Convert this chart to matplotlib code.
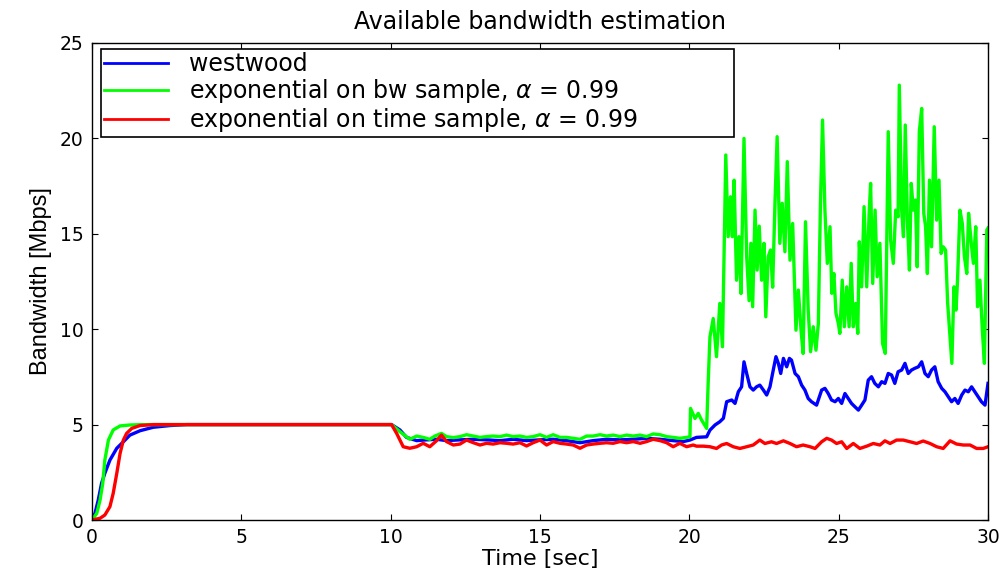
import matplotlib
matplotlib.use("Agg")
import matplotlib.pyplot as plt
from matplotlib import font_manager

# ---------------- data ----------------
westwood_t = [0, 0.10, 0.21, 0.32, 0.43, 0.60, 0.83, 1.05, 1.27, 1.61, 2.05, 2.61, 3.17, 10.03,
              10.31, 10.53, 10.87, 11.20, 11.54, 11.87, 12.32, 12.77, 13.21, 13.66, 14.10, 14.55,
              15.00, 15.44, 15.89, 16.34, 16.78, 17.23, 17.68, 18.12, 18.57, 19.02, 19.46, 19.80,
              20.02, 20.24, 20.58, 20.69, 20.86, 21.02, 21.14, 21.25, 21.42, 21.53, 21.64, 21.75,
              21.83, 21.92, 22.03, 22.14, 22.25, 22.36, 22.48, 22.59, 22.70, 22.81, 22.90, 22.98,
              23.06, 23.15, 23.26, 23.35, 23.42, 23.54, 23.65, 23.76, 23.87, 23.98, 24.09, 24.26,
              24.43, 24.54, 24.65, 24.76, 24.88, 24.99, 25.10, 25.21, 25.32, 25.43, 25.54, 25.66,
              25.77, 25.88, 25.99, 26.10, 26.21, 26.33, 26.44, 26.55, 26.66, 26.77, 26.88, 26.99,
              27.11, 27.22, 27.33, 27.44, 27.55, 27.67, 27.78, 27.89, 28.00, 28.11, 28.22, 28.33,
              28.45, 28.56, 28.67, 28.78, 28.89, 29.00, 29.12, 29.23, 29.34, 29.45, 29.56, 29.67,
              29.78, 29.90, 30.00]
westwood_bw = [0, 0.35, 1.05, 1.92, 2.45, 3.14, 3.76, 4.10, 4.45, 4.68, 4.86, 4.95, 5.00, 5.00,
               4.72, 4.33, 4.16, 4.20, 4.23, 4.16, 4.20, 4.23, 4.20, 4.16, 4.23, 4.16,
               4.20, 4.23, 4.16, 4.05, 4.16, 4.23, 4.20, 4.23, 4.28, 4.23, 4.16, 4.11,
               4.19, 4.33, 4.36, 4.71, 4.98, 5.15, 5.33, 6.20, 6.29, 6.11, 6.72, 6.98,
               8.29, 7.68, 6.98, 6.81, 6.98, 7.07, 6.81, 6.55, 6.98, 7.86, 8.56, 8.21,
               7.68, 8.47, 8.03, 8.47, 8.38, 7.68, 7.51, 7.07, 6.81, 6.37, 6.20, 6.02,
               6.81, 6.90, 6.63, 6.29, 6.20, 6.37, 6.11, 6.63, 6.37, 6.11, 5.94, 5.76,
               6.02, 6.29, 7.33, 7.51, 7.16, 6.98, 7.25, 7.16, 7.68, 7.60, 7.16, 7.77,
               7.86, 8.21, 7.68, 7.86, 7.95, 8.03, 8.29, 7.68, 7.51, 7.86, 8.03, 7.25,
               6.90, 6.72, 6.46, 6.20, 6.37, 6.11, 6.55, 6.81, 6.72, 6.98, 6.72, 6.46,
               6.20, 6.02, 7.16]

bwsample_t = [0, 0.16, 0.27, 0.36, 0.43, 0.55, 0.71, 0.94, 1.27, 1.72, 10.03,
              10.31, 10.64, 10.87, 11.09, 11.31, 11.48, 11.70, 11.87, 12.10, 12.32, 12.54, 12.77,
              12.99, 13.21, 13.43, 13.66, 13.88, 14.10, 14.33, 14.55, 14.77, 15.00, 15.22, 15.44,
              15.67, 15.89, 16.11, 16.34, 16.56, 16.78, 17.01, 17.23, 17.45, 17.68, 17.90, 18.12,
              18.35, 18.57, 18.79, 19.02, 19.24, 19.46, 19.68, 19.91, 20.02,
              20.04, 20.19, 20.30, 20.41, 20.58, 20.63, 20.69, 20.80, 20.91, 21.02, 21.11, 21.22,
              21.30, 21.38, 21.44, 21.50, 21.58, 21.66, 21.73, 21.83, 21.92, 22.00, 22.06, 22.12,
              22.20, 22.27, 22.34, 22.42, 22.50, 22.56, 22.64, 22.72, 22.79, 22.87, 22.94, 23.03,
              23.11, 23.20, 23.28, 23.37, 23.46, 23.57, 23.65, 23.74, 23.81, 23.89, 23.98, 24.06,
              24.15, 24.24, 24.32, 24.39, 24.46, 24.54, 24.62, 24.71, 24.77, 24.84, 24.91, 24.99,
              25.04, 25.12, 25.19, 25.27, 25.35, 25.42, 25.49, 25.57, 25.64, 25.69, 25.77, 25.85,
              25.94, 26.02, 26.07, 26.14, 26.22, 26.29, 26.38, 26.47, 26.56, 26.66, 26.74, 26.83,
              26.91, 26.99, 27.03, 27.11, 27.17, 27.23, 27.30, 27.37, 27.43, 27.50, 27.57, 27.63,
              27.70, 27.78, 27.85, 27.91, 27.97, 28.04, 28.11, 28.20, 28.28, 28.36, 28.43, 28.50,
              28.58, 28.65, 28.73, 28.79, 28.86, 28.93, 28.98, 29.06, 29.14, 29.21, 29.29, 29.35,
              29.43, 29.51, 29.59, 29.65, 29.73, 29.81, 29.88, 29.96, 30.00]
bwsample_bw = [0, 0.35, 1.05, 1.92, 3.14, 4.19, 4.72, 4.93, 4.98, 5.00, 5.00,
               4.63, 4.23, 4.40, 4.33, 4.23, 4.40, 4.54, 4.37, 4.32, 4.37, 4.47, 4.40,
               4.33, 4.37, 4.40, 4.37, 4.45, 4.37, 4.40, 4.33, 4.37, 4.47, 4.33, 4.47,
               4.33, 4.33, 4.28, 4.23, 4.40, 4.40, 4.47, 4.40, 4.45, 4.37, 4.45, 4.40,
               4.45, 4.37, 4.51, 4.47, 4.37, 4.33, 4.28, 4.33, 4.36,
               5.85, 5.32, 5.59, 5.24, 4.80, 7.16, 9.60, 10.56, 8.56, 11.35, 9.08, 19.13,
               14.85, 16.94, 14.85, 17.81, 12.57, 14.85, 11.87, 20.00, 13.80, 11.50, 14.50, 11.18,
               16.24, 13.10, 15.40, 12.57, 14.50, 10.65, 13.80, 14.15, 12.20, 16.77, 20.09, 14.50,
               16.60, 14.06, 18.78, 13.62, 15.54, 9.95, 12.05, 9.95, 8.73, 15.63, 11.00, 8.82,
               10.13, 8.90, 10.30, 16.60, 20.96, 16.24, 13.45, 15.37, 11.88, 12.92, 10.83, 10.30,
               9.78, 12.57, 10.13, 12.22, 10.13, 13.45, 10.13, 11.35, 9.78, 14.58, 12.22, 16.42,
               12.22, 16.07, 17.64, 12.40, 16.24, 12.75, 14.50, 9.25, 8.73, 20.35, 14.67, 13.45,
               16.24, 15.89, 22.79, 16.24, 14.85, 20.70, 15.72, 13.10, 17.64, 16.24, 16.77, 13.27,
               20.35, 21.57, 16.07, 15.37, 12.92, 17.81, 14.32, 20.61, 15.72, 17.81, 13.97, 14.32,
               14.15, 11.35, 9.60, 8.21, 12.22, 11.00, 12.57, 16.24, 15.54, 13.80, 12.92, 16.07,
               14.67, 13.45, 15.37, 11.18, 12.57, 9.95, 8.21, 15.20, 15.30]

timesample_t = [0, 0.27, 0.43, 0.60, 0.71, 0.83, 0.94, 1.05, 1.16, 1.33, 1.61, 2.05, 10.03,
                10.20, 10.42, 10.64, 10.87, 11.09, 11.31, 11.54, 11.70, 11.87, 12.10, 12.32, 12.54,
                12.77, 12.99, 13.21, 13.43, 13.66, 13.88, 14.10, 14.33, 14.55, 14.77, 15.00, 15.22,
                15.44, 15.67, 15.89, 16.11, 16.34, 16.56, 16.78, 17.01, 17.23, 17.45, 17.68, 17.90,
                18.12, 18.35, 18.57, 18.79, 19.02, 19.24, 19.46, 19.68, 19.91, 20.13,
                20.24, 20.47, 20.69, 20.91, 21.08, 21.25, 21.47, 21.69, 21.92, 22.14, 22.36, 22.53,
                22.75, 22.92, 23.15, 23.37, 23.59, 23.81, 24.04, 24.21, 24.43, 24.60, 24.76, 24.93,
                25.10, 25.27, 25.49, 25.71, 25.94, 26.16, 26.38, 26.55, 26.72, 26.94, 27.16, 27.39,
                27.61, 27.83, 28.06, 28.28, 28.50, 28.73, 28.95, 29.17, 29.40, 29.62, 29.84, 30.00]
timesample_bw = [0, 0.09, 0.26, 0.70, 1.40, 2.45, 3.49, 4.19, 4.54, 4.80, 4.95, 5.00, 5.00,
                 4.54, 3.84, 3.76, 3.84, 4.02, 3.84, 4.16, 4.45, 4.11, 3.93, 3.98, 4.19,
                 4.05, 3.93, 4.02, 3.98, 4.05, 4.02, 3.98, 4.05, 3.88, 4.05, 4.19, 3.93,
                 4.11, 4.02, 3.98, 3.93, 3.76, 3.93, 3.98, 4.02, 4.05, 4.02, 4.11, 4.05,
                 4.11, 4.02, 4.11, 4.23, 4.16, 4.05, 3.84, 4.02, 3.84, 3.93,
                 3.87, 3.87, 3.84, 3.75, 3.93, 4.01, 3.84, 3.75, 3.84, 3.93, 4.19, 4.01,
                 4.10, 4.01, 4.15, 4.01, 3.84, 3.93, 3.84, 3.75, 4.10, 4.28, 4.19, 4.01,
                 4.10, 3.75, 4.01, 3.75, 3.87, 4.01, 3.93, 4.15, 4.01, 4.19, 4.19, 4.10,
                 4.01, 4.14, 4.01, 3.84, 3.75, 4.15, 3.98, 3.93, 3.93, 3.75, 3.75, 3.84]

series_labels = ["westwood",
                 r"exponential on bw sample, $\alpha$ = 0.99",
                 r"exponential on time sample, $\alpha$ = 0.99"]
x_ticks = [0, 5, 10, 15, 20, 25, 30]
y_ticks = [0, 5, 10, 15, 20, 25]

# ---------------- drawing ----------------
plt.rcParams['font.family'] = ['DejaVu Sans']
plt.rcParams['mathtext.fontset'] = 'dejavusans'

available = {f.name for f in font_manager.fontManager.ttflist}
ylab_font = 'Liberation Sans Narrow' if 'Liberation Sans Narrow' in available else 'Liberation Sans'

fig = plt.figure(figsize=(10.03, 5.71), dpi=100)
ax = fig.add_axes([92 / 1003, 1 - 520 / 571, 896 / 1003, 477 / 571])

lw = 2.4
ax.plot(westwood_t, westwood_bw, color=(0, 0, 1), lw=lw, label=series_labels[0])
ax.plot(bwsample_t, bwsample_bw, color=(0, 1, 0), lw=lw, label=series_labels[1])
ax.plot(timesample_t, timesample_bw, color=(1, 0, 0), lw=lw, label=series_labels[2])

ax.set_xlim(0, 30)
ax.set_ylim(0, 25)
ax.set_xticks(x_ticks)
ax.set_yticks(y_ticks)
ax.tick_params(direction='in', length=4.5, width=0.8, top=True, right=True,
               labelsize=13.5, pad=6)
for s in ax.spines.values():
    s.set_linewidth(1.0)
    s.set_color('black')

ax.set_title("Available bandwidth estimation", fontsize=17, pad=10)
ax.set_xlabel("Time [sec]", fontsize=16, labelpad=1)
ax.set_ylabel("Bandwidth [Mbps]", fontsize=17, family=ylab_font, labelpad=6)

leg = ax.legend(loc='upper left', bbox_to_anchor=(0.01, 0.807, 0.7065, 0.18),
                mode='expand', borderaxespad=0, fontsize=17, labelspacing=0.05,
                handlelength=2.7, handletextpad=0.9, borderpad=0.12, fancybox=False,
                framealpha=1, edgecolor='black')
leg.get_frame().set_linewidth(1.2)
for line in leg.get_lines():
    line.set_linewidth(2.0)

fig.savefig("out.png", dpi=100)
